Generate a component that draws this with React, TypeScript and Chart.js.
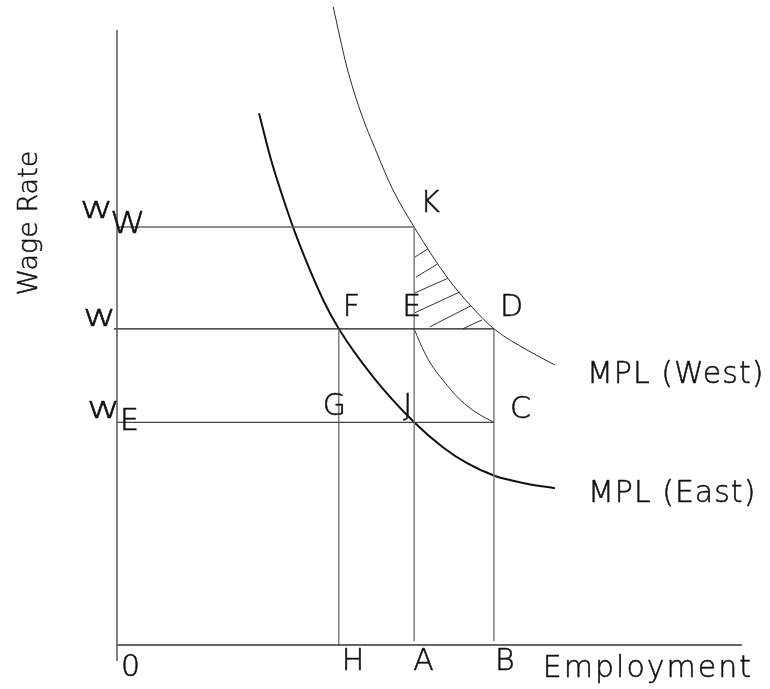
import React, { useEffect, useRef } from "react";
import { Chart, registerables } from "chart.js";
Chart.register(...registerables);

// Employment levels (x axis)
const EMP_H = 35.6;
const EMP_A = 47.7;
const EMP_B = 60.5;
const EMP_AXIS_END = 100.3;
// Wage levels (y axis)
const WAGE_WW = 65.3;
const WAGE_W = 49.4;
const WAGE_WE = 34.8;
const WAGE_AXIS_TOP = 96.1;

// MPL (West) curve
const westX = [34.7, 36.9, 39.0, 41.7, 44.3, 47.7, 53.1, 56.8, 60.5, 65.8, 70.3];
const westY = [99.7, 90.3, 83.6, 76.9, 71.1, 65.3, 57.3, 53.0, 49.4, 46.1, 43.75];
// MPL (East) curve
const eastX = [22.8, 24.6, 26.6, 28.9, 33.1, 35.6, 41.1, 47.7, 52.3, 56.2, 60.7, 65.8, 70.3];
const eastY = [83.1, 76.25, 70.0, 63.6, 53.9, 49.4, 41.9, 34.8, 30.9, 28.4, 26.4, 25.2, 24.5];
// E -> C curve
const ecX = [47.7, 48.6, 50.2, 52.3, 55.1, 57.8, 60.5];
const ecY = [49.4, 47.3, 44.2, 41.4, 38.3, 36.25, 34.8];
// hatching segments in area KED: [x1, y1, x2, y2]
const hatch = [
  [47.8, 60.6, 49.9, 61.9],
  [48.0, 57.5, 51.4, 59.5],
  [47.8, 55.0, 53.1, 57.3],
  [47.8, 51.9, 55.1, 55.2],
  [50.2, 49.7, 56.8, 53.0],
  [55.5, 49.4, 58.6, 50.8],
];

const FAMILY = "'DejaVu Sans', sans-serif";
const font = (size: number) => `200 ${size}px ${FAMILY}`;

type Label = { text: string; ax: number; ay: number; dx: number; dy: number; size?: number; ls?: number; sx?: number };
const labels: Label[] = [
  { text: "K", ax: EMP_A, ay: WAGE_WW, dx: 6, dy: -15 },
  { text: "F", ax: EMP_H, ay: WAGE_W, dx: 4, dy: -13 },
  { text: "E", ax: EMP_A, ay: WAGE_W, dx: -12, dy: -13 },
  { text: "D", ax: EMP_B, ay: WAGE_W, dx: 6, dy: -13 },
  { text: "G", ax: EMP_H, ay: WAGE_WE, dx: -16, dy: -7 },
  { text: "J", ax: EMP_A, ay: WAGE_WE, dx: -11, dy: -7 },
  { text: "C", ax: EMP_B, ay: WAGE_WE, dx: 16, dy: -4 },
  { text: "MPL (West)", ax: 70.3, ay: 43.75, dx: 32, dy: 18, ls: 1 },
  { text: "MPL (East)", ax: 70.3, ay: 24.5, dx: 33, dy: 14, ls: 1 },
  { text: "w", ax: 0, ay: WAGE_WW, dx: -37, dy: -9, sx: 1.35 },
  { text: "W", ax: 0, ay: WAGE_WW, dx: -7, dy: 6, sx: 1.2 },
  { text: "w", ax: 0, ay: WAGE_W, dx: -34, dy: -3, sx: 1.35 },
  { text: "w", ax: 0, ay: WAGE_WE, dx: -30, dy: -4, sx: 1.35 },
  { text: "E", ax: 0, ay: WAGE_WE, dx: 3, dy: 8 },
  { text: "0", ax: 0, ay: 0, dx: 4, dy: 31 },
  { text: "H", ax: EMP_H, ay: 0, dx: 3, dy: 25 },
  { text: "A", ax: EMP_A, ay: 0, dx: -1, dy: 25 },
  { text: "B", ax: EMP_B, ay: 0, dx: 1, dy: 25 },
  { text: "Employment", ax: EMP_AXIS_END, ay: 0, dx: -199, dy: 32, ls: 2 },
];

const pts = (xs: number[], ys: number[]) => xs.map((x, i) => ({ x, y: ys[i] }));

const line = (data: { x: number; y: number }[], color: string, width: number, curve = false) => ({
  data,
  showLine: true,
  borderColor: color,
  backgroundColor: color,
  borderWidth: width,
  pointRadius: 0,
  pointHoverRadius: 0,
  fill: false,
  clip: false as any,
  tension: 0,
  cubicInterpolationMode: curve ? "monotone" : "default",
});

const labelPlugin = {
  id: "diagramLabels",
  afterDatasetsDraw(chart: any) {
    const { ctx } = chart;
    const xs = chart.scales.x;
    const ys = chart.scales.y;
    ctx.save();
    ctx.fillStyle = "#111";
    ctx.strokeStyle = "#111";
    ctx.lineWidth = 0.5;
    ctx.lineJoin = "round";
    ctx.textAlign = "left";
    ctx.textBaseline = "alphabetic";
    for (const l of labels) {
      ctx.save();
      ctx.font = font(l.size ?? 30);
      (ctx as any).letterSpacing = `${l.ls ?? 0}px`;
      ctx.translate(xs.getPixelForValue(l.ax) + l.dx, ys.getPixelForValue(l.ay) + l.dy);
      ctx.scale(l.sx ?? 1, 1);
      ctx.fillText(l.text, 0, 0);
      ctx.strokeText(l.text, 0, 0);
      ctx.restore();
    }
    (ctx as any).letterSpacing = "0px";
    ctx.font = font(27);
    ctx.translate(xs.getPixelForValue(0) - 80, ys.getPixelForValue(WAGE_WW) - 4);
    ctx.rotate(-Math.PI / 2);
    ctx.textAlign = "center";
    ctx.fillText("Wage Rate", 0, 0);
    ctx.strokeText("Wage Rate", 0, 0);
    ctx.restore();
  },
};

export default function App() {
  const ref = useRef<HTMLCanvasElement>(null);
  useEffect(() => {
    document.body.style.margin = "0";
    const canvas = ref.current;
    if (!canvas) return;
    const datasets: any[] = [
      line([{ x: 0, y: -2.5 }, { x: 0, y: WAGE_AXIS_TOP }], "#555", 1.5),
      line([{ x: 0, y: 0 }, { x: EMP_AXIS_END, y: 0 }], "#333", 1.5),
      line([{ x: 0, y: WAGE_WW }, { x: EMP_A, y: WAGE_WW }], "#666", 1.5),
      line([{ x: -0.5, y: WAGE_W }, { x: EMP_B, y: WAGE_W }], "#1a1a1a", 1.3),
      line([{ x: 0, y: WAGE_WE }, { x: EMP_B, y: WAGE_WE }], "#444", 1.2),
      line([{ x: EMP_H, y: WAGE_W }, { x: EMP_H, y: 0 }], "#808080", 1.5),
      line([{ x: EMP_A, y: WAGE_WW }, { x: EMP_A, y: 0.6 }], "#808080", 1.5),
      line([{ x: EMP_B, y: WAGE_W }, { x: EMP_B, y: 0.6 }], "#808080", 1.5),
      line(pts(westX, westY), "#2a2a2a", 1, true),
      line(pts(eastX, eastY), "#111", 2, true),
      line(pts(ecX, ecY), "#333", 1, true),
      ...hatch.map((h) => line([{ x: h[0], y: h[1] }, { x: h[2], y: h[3] }], "#333", 1)),
    ];
    const chart = new Chart(canvas, {
      type: "scatter",
      data: { datasets },
      options: {
        responsive: false,
        maintainAspectRatio: false,
        animation: false,
        layout: { padding: { left: 117, right: 30, top: 5, bottom: 44 } },
        scales: {
          x: { type: "linear", min: 0, max: 100, display: false },
          y: { type: "linear", min: 0, max: 100, display: false },
        },
        plugins: { legend: { display: false }, tooltip: { enabled: false } },
      },
      plugins: [labelPlugin],
    });
    return () => chart.destroy();
  }, []);
  return (
    <div style={{ position: "absolute", left: 0, top: 0, width: 770, height: 689, background: "#fff" }}>
      <canvas ref={ref} width={770} height={689} style={{ width: 770, height: 689 }} />
    </div>
  );
}
